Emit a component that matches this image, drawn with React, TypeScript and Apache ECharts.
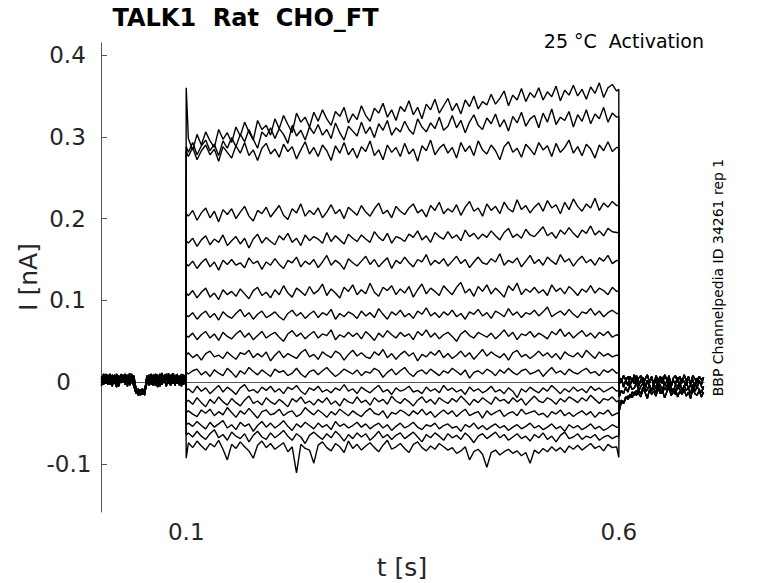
import React, { useEffect, useRef } from "react";
import * as echarts from "echarts";

// ---- time base (s) ----
const PRE_START = 0.002;
const PRE_DT = 0.0025;
const STEP_ON = 0.1;
const STEP_OFF = 0.6;
const STEP_START = 0.1025;
const STEP_DT = 0.005;
const TAIL_START = 0.6005;
const TAIL_DT = 0.0025;

// ---- axis ticks ----
const xTickValues = [0.1, 0.6];
const yTickValues = [-0.1, 0, 0.1, 0.2, 0.3, 0.4];

// ---- pre-step baseline sweeps (pA) ----
const baselineA = [3, 8, -2, 5, 10, 0, 6, -4, 7, 2, 9, -3, 4, 8, -1, 5, -10, -13, -9, -15, -11, 2, 7, -3, 6, 10, 1, -5, 8, 3, 9, -2, 5, 11, -4, 7, 2, 9, -1, 6];
const baselineB = [-4, 6, 1, 9, -3, 7, 4, -6, 8, 0, 5, 10, -2, 6, 2, -5, -14, -8, -16, -10, -13, -1, 9, 4, -4, 8, -2, 10, 0, 6, -5, 7, 3, 8, -3, 10, -1, 5, 9, -2];
const baselineC = [7, -1, 10, 2, 5, -5, 9, 3, -2, 8, 0, 6, -5, 11, 3, 8, -9, -15, -11, -8, -16, 6, -2, 10, 1, -4, 7, 4, -3, 9, 2, 11, -3, 6, 8, 0, 5, -5, 7, 3];
const baselineD = [1, 10, 4, -3, 7, 3, -2, 10, 5, -1, 7, 2, 9, -4, 7, 0, -12, -10, -14, -12, -9, 4, -4, 5, 9, 2, -6, 6, 11, -1, 6, 0, 9, -2, 4, 8, -4, 10, 3, 8];
const baselineE = [5, -3, 6, 8, -1, 9, 1, 5, -5, 10, 3, 7, 1, -2, 10, 2, -7, -16, -12, -13, -12, 8, 3, -1, 4, 7, 9, -2, 5, 1, 10, 4, -4, 3, 9, -2, 8, 1, -3, 7];

// ---- post-step tail sweeps (pA) ----
const tailA = [6, 0, 8, 3, -4, 7, 1, 9, -2, 5, 8, -3, 4, 9, 0, 6, -4, 8, 2, 7, -2, 9, 3, 6, -5, 5, 8, 0, 7, -1, 9, 2, 6, -3, 8, 4, -1, 7, 3, 5];
const tailB = [-3, 5, -6, 2, 7, -4, 4, -2, 8, -5, 3, 6, -6, 2, -1, 7, -4, 4, -7, 3, 6, -3, 1, 8, -5, 2, -2, 6, -6, 4, 1, -4, 7, -2, 3, -6, 5, 0, -3, 6];
const tailC = [-28, -22, -25, -18, -21, -15, -19, -12, -16, -10, -14, -6, -12, -9, -3, -11, -7, -13, -4, -9, -14, -6, -10, -2, -12, -8, -15, -5, -9, -12, -4, -10, -7, -14, -3, -11, -6, -9, -13, -5];
const tailD = [-18, -10, -14, -6, -12, -3, -9, -7, 0, -11, -5, -1, -9, 2, -6, -10, -2, -8, 1, -4, -9, -1, -6, 3, -7, -12, -3, -5, 0, -10, -6, 1, -8, -3, -11, -1, -7, 2, -5, -9];
const tailE = [-35, -24, -26, -20, -17, -19, -12, -16, -10, -14, -18, -8, -13, -20, -9, -15, -11, -17, -7, -14, -10, -19, -12, -6, -16, -13, -8, -18, -11, -15, -9, -17, -12, -20, -8, -14, -16, -10, -18, -12];

// ---- current during the voltage step (pA), one sweep per array ----
const sweep01 = [298, 284, 303, 290, 306, 295, 287, 309, 297, 305, 293, 312, 301, 318, 306, 296, 320, 309, 314, 302, 322, 310, 326, 315, 305, 329, 318, 324, 312, 330, 319, 333, 322, 314, 331, 325, 336, 317, 328, 321, 338, 326, 319, 335, 329, 341, 324, 333, 320, 337, 331, 344, 327, 336, 322, 340, 333, 346, 329, 338, 347, 332, 341, 328, 345, 337, 350, 334, 343, 339, 352, 340, 347, 356, 338, 351, 345, 359, 343, 354, 348, 360, 345, 355, 349, 362, 344, 357, 351, 363, 350, 358, 346, 361, 353, 366, 348, 360, 364, 356];
const sweep02 = [281, 293, 278, 289, 296, 283, 291, 277, 295, 286, 299, 288, 303, 294, 309, 297, 286, 306, 300, 311, 298, 310, 303, 292, 314, 301, 308, 296, 312, 304, 315, 302, 309, 298, 317, 305, 296, 313, 307, 301, 318, 304, 312, 299, 316, 308, 320, 302, 311, 306, 319, 309, 303, 322, 312, 306, 317, 310, 324, 308, 313, 326, 311, 320, 305, 318, 327, 314, 309, 323, 316, 328, 312, 321, 307, 325, 317, 330, 313, 322, 326, 311, 329, 318, 334, 315, 324, 320, 331, 312, 327, 319, 333, 316, 328, 322, 336, 318, 329, 324];
const sweep03 = [276, 287, 272, 283, 290, 278, 285, 270, 288, 281, 274, 289, 280, 293, 277, 284, 271, 286, 292, 279, 285, 275, 291, 282, 288, 273, 284, 294, 279, 287, 276, 290, 283, 271, 289, 280, 293, 278, 286, 274, 288, 282, 295, 277, 284, 272, 290, 281, 287, 276, 292, 279, 285, 270, 289, 283, 296, 278, 286, 291, 280, 287, 274, 293, 282, 289, 277, 295, 284, 279, 290, 283, 272, 288, 294, 281, 286, 275, 291, 285, 278, 293, 284, 289, 276, 292, 281, 287, 296, 280, 288, 277, 291, 285, 274, 290, 283, 294, 282, 287];
const sweep04 = [203, 210, 198, 207, 213, 201, 209, 196, 211, 205, 212, 200, 208, 215, 203, 197, 210, 206, 214, 202, 209, 216, 204, 199, 212, 207, 218, 203, 210, 205, 213, 201, 208, 217, 206, 211, 200, 214, 209, 204, 216, 208, 203, 212, 219, 206, 210, 201, 215, 209, 205, 213, 218, 207, 211, 202, 216, 210, 220, 206, 212, 208, 217, 204, 214, 221, 209, 213, 203, 218, 210, 215, 206, 220, 212, 208, 223, 211, 216, 207, 214, 219, 209, 222, 213, 217, 206, 220, 211, 224, 215, 209, 218, 213, 225, 210, 219, 214, 221, 216];
const sweep05 = [170, 176, 166, 174, 179, 168, 175, 171, 180, 167, 173, 178, 169, 176, 164, 175, 181, 170, 177, 172, 168, 179, 174, 182, 171, 176, 167, 180, 173, 178, 175, 170, 183, 172, 179, 174, 169, 181, 176, 172, 180, 175, 171, 184, 177, 173, 182, 170, 178, 176, 172, 181, 177, 185, 174, 179, 171, 183, 178, 175, 184, 176, 180, 173, 186, 178, 182, 175, 181, 177, 185, 179, 174, 183, 188, 177, 181, 176, 187, 180, 178, 184, 190, 179, 183, 176, 186, 181, 189, 182, 177, 186, 182, 191, 180, 185, 179, 188, 184, 183];
const sweep06 = [142, 148, 139, 146, 151, 141, 147, 137, 149, 144, 150, 143, 146, 140, 152, 145, 148, 138, 147, 143, 151, 144, 139, 149, 146, 153, 141, 148, 144, 150, 140, 147, 155, 143, 149, 145, 138, 151, 146, 142, 148, 154, 144, 150, 141, 147, 152, 139, 149, 145, 153, 146, 141, 150, 147, 156, 143, 149, 145, 151, 142, 148, 154, 145, 150, 140, 147, 153, 146, 144, 151, 147, 157, 143, 149, 146, 152, 141, 148, 155, 145, 150, 143, 153, 148, 144, 156, 147, 151, 142, 149, 154, 146, 150, 143, 152, 148, 155, 145, 149];
const sweep07 = [106, 112, 103, 110, 115, 104, 109, 101, 113, 107, 111, 105, 114, 108, 102, 112, 116, 106, 110, 103, 113, 107, 118, 109, 104, 115, 111, 106, 117, 108, 112, 120, 106, 114, 109, 103, 116, 111, 119, 107, 113, 108, 121, 110, 105, 116, 112, 118, 107, 114, 109, 117, 104, 113, 120, 108, 115, 111, 106, 118, 112, 107, 116, 122, 109, 114, 105, 117, 111, 119, 108, 115, 110, 104, 118, 112, 121, 107, 114, 110, 116, 109, 113, 106, 119, 111, 115, 108, 117, 112, 106, 114, 110, 118, 109, 115, 112, 107, 116, 111];
const sweep08 = [80, 85, 77, 83, 87, 79, 84, 76, 86, 81, 78, 84, 89, 80, 85, 77, 83, 87, 79, 82, 86, 80, 76, 84, 88, 81, 85, 78, 83, 87, 79, 85, 82, 89, 77, 84, 80, 86, 83, 78, 87, 81, 85, 79, 90, 83, 77, 86, 82, 88, 80, 84, 78, 87, 83, 91, 81, 85, 79, 86, 82, 88, 80, 84, 77, 86, 83, 89, 81, 85, 78, 87, 84, 80, 90, 82, 86, 79, 85, 83, 88, 81, 86, 92, 80, 84, 87, 82, 89, 83, 79, 86, 84, 90, 82, 87, 80, 85, 88, 84];
const sweep09 = [55, 60, 52, 58, 62, 54, 59, 51, 61, 56, 53, 59, 63, 55, 60, 52, 57, 62, 54, 58, 61, 55, 50, 59, 63, 56, 60, 53, 58, 62, 54, 59, 57, 64, 52, 58, 55, 61, 56, 60, 53, 62, 57, 51, 60, 55, 63, 58, 54, 61, 56, 59, 52, 62, 57, 64, 55, 60, 53, 58, 61, 56, 50, 59, 63, 57, 54, 61, 58, 55, 60, 53, 58, 64, 56, 61, 52, 59, 57, 62, 55, 60, 57, 53, 62, 58, 65, 56, 61, 54, 59, 63, 56, 60, 54, 61, 57, 62, 55, 58];
const sweep10 = [36, 30, 34, 27, 35, 38, 31, 33, 29, 37, 32, 28, 36, 34, 39, 30, 35, 31, 37, 26, 33, 38, 30, 35, 32, 29, 36, 40, 31, 34, 28, 37, 33, 30, 38, 35, 27, 34, 39, 32, 36, 31, 29, 37, 33, 40, 30, 35, 28, 34, 38, 32, 36, 26, 34, 31, 37, 33, 39, 30, 35, 29, 33, 38, 31, 36, 28, 34, 40, 32, 37, 33, 30, 35, 27, 36, 39, 31, 34, 29, 33, 38, 32, 36, 30, 35, 28, 37, 33, 31, 36, 30, 39, 34, 29, 37, 32, 35, 31, 33];
const sweep11 = [10, 14, 16, 9, 13, 7, 15, 11, 8, 17, 12, 6, 14, 10, 18, 13, 9, 15, 11, 7, 16, 12, 14, 8, 11, 17, 10, 6, 13, 15, 9, 14, 18, 12, 7, 11, 16, 13, 10, 15, 8, 13, 11, 17, 14, 6, 12, 16, 9, 14, 18, 11, 7, 13, 15, 10, 16, 12, 8, 14, 11, 17, 13, 9, 15, 5, 12, 14, 10, 16, 13, 8, 15, 11, 17, 12, 9, 14, 16, 10, 12, 15, 7, 13, 18, 11, 14, 9, 16, 12, 10, 14, 17, 11, 13, 8, 15, 12, 16, 11];
const sweep12 = [-8, -13, -5, -11, -7, -14, -9, -4, -12, -6, -10, -15, -7, -3, -11, -9, -13, -6, -10, -5, -12, -8, -14, -6, -9, -4, -11, -15, -7, -10, -5, -12, -9, -13, -7, -10, -3, -11, -8, -14, -6, -10, -13, -8, -4, -12, -9, -15, -7, -11, -9, -5, -12, -10, -14, -6, -11, -8, -13, -4, -10, -7, -12, -9, -15, -6, -11, -8, -13, -10, -5, -12, -9, -14, -7, -11, -19, -8, -12, -6, -10, -13, -7, -11, -4, -9, -14, -8, -12, -6, -11, -8, -13, -5, -10, -7, -12, -9, -6, -11];
const sweep13 = [-22, -27, -19, -25, -30, -21, -26, -18, -24, -28, -20, -25, -29, -22, -17, -26, -23, -28, -19, -24, -27, -21, -25, -30, -20, -24, -18, -26, -23, -28, -21, -25, -19, -27, -23, -29, -20, -24, -26, -18, -25, -22, -28, -19, -24, -21, -27, -17, -23, -26, -20, -24, -29, -22, -18, -25, -21, -27, -19, -23, -26, -20, -24, -17, -22, -28, -21, -25, -19, -23, -27, -18, -23, -21, -26, -19, -24, -20, -28, -22, -17, -23, -25, -19, -22, -27, -20, -24, -18, -21, -25, -19, -23, -16, -21, -26, -20, -22, -18, -24];
const sweep14 = [-35, -39, -42, -34, -38, -33, -41, -36, -40, -31, -37, -43, -35, -39, -32, -38, -44, -36, -34, -40, -38, -33, -41, -37, -35, -42, -39, -31, -36, -40, -34, -38, -43, -36, -40, -33, -37, -41, -35, -39, -42, -36, -32, -38, -40, -35, -44, -37, -39, -34, -37, -41, -35, -39, -33, -40, -36, -43, -38, -34, -39, -35, -42, -37, -33, -41, -38, -36, -44, -35, -40, -37, -34, -42, -38, -36, -41, -33, -39, -37, -35, -40, -38, -43, -36, -39, -34, -41, -37, -42, -38, -35, -40, -36, -43, -37, -39, -34, -41, -38];
const sweep15 = [-50, -54, -48, -53, -57, -49, -55, -51, -47, -56, -52, -58, -49, -54, -51, -60, -53, -48, -55, -50, -56, -52, -47, -54, -59, -51, -55, -49, -53, -57, -50, -55, -52, -58, -48, -54, -51, -56, -53, -49, -55, -51, -57, -53, -50, -56, -52, -59, -54, -50, -56, -53, -49, -55, -58, -52, -54, -50, -57, -53, -51, -56, -54, -60, -52, -55, -50, -57, -53, -58, -54, -51, -56, -53, -59, -55, -52, -57, -54, -50, -56, -53, -58, -55, -51, -57, -54, -60, -52, -56, -53, -58, -55, -51, -57, -54, -59, -56, -52, -55];
const sweep16 = [-62, -67, -60, -66, -70, -63, -58, -68, -64, -71, -61, -66, -69, -63, -73, -65, -60, -67, -70, -62, -68, -64, -59, -66, -71, -63, -67, -75, -65, -61, -66, -70, -63, -68, -60, -65, -72, -64, -69, -62, -67, -63, -71, -66, -60, -68, -64, -70, -65, -62, -69, -65, -61, -67, -73, -64, -68, -62, -66, -71, -63, -68, -65, -70, -62, -67, -74, -66, -63, -69, -65, -61, -68, -64, -71, -67, -63, -69, -66, -72, -64, -68, -62, -70, -66, -73, -65, -61, -69, -67, -63, -70, -66, -68, -64, -71, -67, -65, -69, -66];
const sweep17 = [-74, -80, -72, -78, -83, -75, -79, -71, -82, -95, -76, -81, -73, -79, -84, -93, -77, -72, -80, -75, -82, -78, -74, -85, -79, -111, -76, -81, -83, -99, -77, -73, -80, -84, -75, -79, -86, -72, -81, -76, -83, -78, -74, -80, -85, -77, -71, -82, -79, -75, -81, -86, -76, -73, -80, -84, -78, -82, -75, -79, -83, -80, -87, -84, -79, -95, -85, -82, -88, -104, -86, -83, -89, -85, -82, -87, -84, -90, -86, -99, -83, -87, -81, -85, -79, -84, -80, -86, -78, -82, -77, -83, -79, -75, -81, -78, -84, -76, -80, -79];

// capacitive transients at step onset / offset (pA)
const onsetPeak = [360, 288, 282, 206, 173, 145, 109, 82, 57, 33, 12, -10, -24, -37, -52, -65, -93];
const offsetPeak = [358, 325, 287, 216, 183, 148, 112, 84, 57, 33, 12, -10, -22, -38, -55, -67, -92];

const sweeps = [sweep01, sweep02, sweep03, sweep04, sweep05, sweep06, sweep07, sweep08, sweep09, sweep10, sweep11, sweep12, sweep13, sweep14, sweep15, sweep16, sweep17];
const baselines = [baselineA, baselineB, baselineC, baselineD, baselineE];
const tails = [tailA, tailB, tailC, tailD, tailE];
const tailOfSweep = [0, 1, 0, 1, 3, 0, 1, 3, 0, 1, 3, 2, 4, 2, 4, 2, 4];

const FONT = '"DejaVu Sans", sans-serif';
const AXIS_COLOR = "#555555";
const TEXT_COLOR = "#262626";

function buildSeries() {
  return sweeps.map((sweep, k) => {
    const data: [number, number][] = [];
    baselines[k % baselines.length].forEach((v, j) => data.push([PRE_START + j * PRE_DT, v / 1000]));
    data.push([STEP_ON, onsetPeak[k] / 1000]);
    sweep.forEach((v, i) => data.push([STEP_START + i * STEP_DT, v / 1000]));
    data.push([STEP_OFF, offsetPeak[k] / 1000]);
    tails[tailOfSweep[k]].forEach((v, j) => data.push([TAIL_START + j * TAIL_DT, v / 1000]));
    return {
      type: "line",
      data,
      showSymbol: false,
      symbol: "none",
      silent: true,
      lineStyle: { color: "#000000", width: 1.4 },
    };
  });
}

export default function App() {
  const ref = useRef<HTMLDivElement>(null);
  useEffect(() => {
    if (!ref.current) return;
    const chart = echarts.init(ref.current, null, { renderer: "svg" });
    const option = {
      animation: false,
      backgroundColor: "#ffffff",
      textStyle: { fontFamily: FONT },
      grid: { left: 101, top: 43, right: 74, bottom: 71, containLabel: false },
      xAxis: {
        type: "value",
        min: 0.0015,
        max: 0.6985,
        axisLine: { show: true, lineStyle: { color: AXIS_COLOR, width: 1 } },
        axisTick: { show: true, inside: true, length: 6, customValues: xTickValues, lineStyle: { color: AXIS_COLOR } },
        axisLabel: {
          customValues: xTickValues,
          formatter: (v: number) => String(v),
          fontSize: 23,
          color: TEXT_COLOR,
          fontFamily: FONT,
          margin: 8,
        },
        splitLine: { show: false },
      },
      yAxis: {
        type: "value",
        min: -0.1587,
        max: 0.4147,
        axisLine: { show: true, lineStyle: { color: AXIS_COLOR, width: 1 } },
        axisTick: { show: true, inside: true, length: 6, customValues: yTickValues, lineStyle: { color: AXIS_COLOR } },
        axisLabel: {
          customValues: yTickValues,
          align: "center",
          margin: 33.5,
          formatter: (v: number) => (v === 0 ? "{z|0}" : v < 0 ? "{n|" + String(v) + "}" : "{p|" + String(v) + "}"),
          rich: {
            p: { fontSize: 23, color: TEXT_COLOR, fontFamily: FONT },
            z: { fontSize: 23, color: TEXT_COLOR, fontFamily: FONT, padding: [0, 8, 0, 0] },
            n: { fontSize: 23, color: TEXT_COLOR, fontFamily: FONT, padding: [0, 0, 0, 3] },
          },
        },
        splitLine: { show: false },
      },
      graphic: [
        {
          type: "text",
          x: 245.5,
          y: 17.5,
          silent: true,
          style: { text: "TALK1  Rat  CHO_FT", font: 'bold 24px "DejaVu Sans", sans-serif', fill: "#000000", align: "center", verticalAlign: "middle" },
        },
        {
          type: "text",
          x: 704,
          y: 40.5,
          silent: true,
          style: { text: "25 °C  Activation", font: '19px "DejaVu Sans", sans-serif', fill: "#000000", align: "right", verticalAlign: "middle" },
        },
        {
          type: "text",
          x: 717.5,
          y: 277.5,
          rotation: Math.PI / 2,
          silent: true,
          style: { text: "BBP Channelpedia ID 34261 rep 1", font: '14px "DejaVu Sans", sans-serif', fill: "#000000", align: "center", verticalAlign: "middle" },
        },
        {
          type: "text",
          x: 28,
          y: 277,
          rotation: Math.PI / 2,
          silent: true,
          style: { text: "I [nA]", font: '25px "DejaVu Sans", sans-serif', fill: TEXT_COLOR, align: "center", verticalAlign: "middle" },
        },
        {
          type: "text",
          x: 402,
          y: 567,
          silent: true,
          style: { text: "t [s]", font: '25px "DejaVu Sans", sans-serif', fill: TEXT_COLOR, align: "center", verticalAlign: "middle" },
        },
      ],
      series: buildSeries(),
    };
    chart.setOption(option as any);
    return () => chart.dispose();
  }, []);
  return <div ref={ref} style={{ position: "absolute", left: 0, top: 0, width: 778, height: 583 }} />;
}
